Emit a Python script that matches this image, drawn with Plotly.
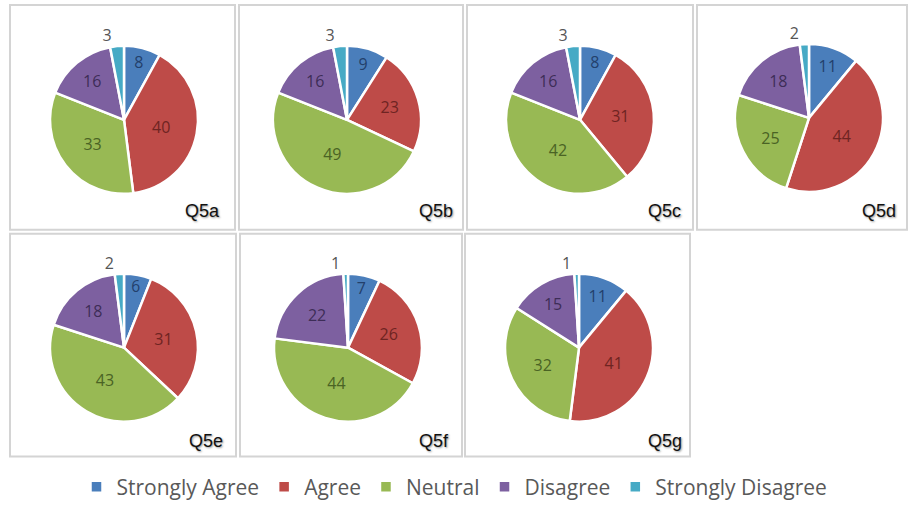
import plotly.graph_objects as go

categories = ["Strongly Agree", "Agree", "Neutral", "Disagree", "Strongly Disagree"]
questions = ["Q5a", "Q5b", "Q5c", "Q5d", "Q5e", "Q5f", "Q5g"]
q5a = [8, 40, 33, 16, 3]
q5b = [9, 23, 49, 16, 3]
q5c = [8, 31, 42, 16, 3]
q5d = [11, 44, 25, 18, 2]
q5e = [6, 31, 43, 18, 2]
q5f = [7, 26, 44, 22, 1]
q5g = [11, 41, 32, 15, 1]
series = [q5a, q5b, q5c, q5d, q5e, q5f, q5g]

colors = ["#4a7ebb", "#be4b48", "#98b954", "#7d60a0", "#46aac5"]
text_colors = ["#23406b", "#6e2422", "#4a6324", "#3d2d57", "#555555"]

W, H = 909, 508
# panel boxes (pixels): x0, y0, x1, y1
panels = [(10, 5, 235, 233), (239, 5, 463, 233), (467, 5, 693, 233), (697, 5, 907, 233),
          (10, 237, 236, 463), (240, 237, 462, 463), (465, 237, 690, 463)]
centers = [(124, 121.5), (347, 121.5), (580, 121.5), (809, 119.5),
           (124, 352.5), (348, 352.5), (579, 352.5)]
R = 75
title_pos = [(222, 214), (455, 214), (683, 214), (898, 214),
             (225, 447), (451, 447), (684, 447)]

fig = go.Figure()
for i, (q, vals) in enumerate(zip(questions, series)):
    cx, cy = centers[i]
    fig.add_trace(go.Pie(
        labels=categories, values=vals, sort=False, direction="clockwise", rotation=0,
        marker=dict(colors=colors, line=dict(color="white", width=2.5)),
        textinfo="value",
        textposition=["inside", "inside", "inside", "inside", "outside"],
        insidetextorientation="horizontal",
        textfont=dict(family="Open Sans, Arial", size=16, color=text_colors),
        domain=dict(x=[(cx - R) / W, (cx + R) / W], y=[1 - (cy + R) / H, 1 - (cy - R) / H]),
        showlegend=(i == 0), hoverinfo="label+value", name=q,
    ))

shapes = []
for (x0, y0, x1, y1) in panels:
    shapes.append(dict(type="rect", xref="paper", yref="paper",
                       x0=x0 / W, x1=x1 / W, y0=1 - y1 / H, y1=1 - y0 / H,
                       line=dict(color="#d4d4d4", width=2), fillcolor="rgba(0,0,0,0)", layer="below"))

annotations = []
for q, (tx, ty) in zip(questions, title_pos):
    annotations.append(dict(text=q, xref="paper", yref="paper", x=tx / W, y=1 - ty / H,
                            xanchor="right", yanchor="middle", showarrow=False,
                            font=dict(family="Arial", size=18, color="#111111",
                                      shadow="1px 1px 2px #999999")))

fig.update_layout(
    width=W, height=H, margin=dict(l=0, r=0, t=0, b=0),
    paper_bgcolor="white", plot_bgcolor="white",
    shapes=shapes, annotations=annotations,
    legend=dict(orientation="h", x=0.5, xanchor="center", y=1 - 494 / H, yanchor="middle",
                font=dict(family="Open Sans, Arial", size=21, color="#595959"),
                itemwidth=30, traceorder="normal"),
)
fig.write_html("out.html")
